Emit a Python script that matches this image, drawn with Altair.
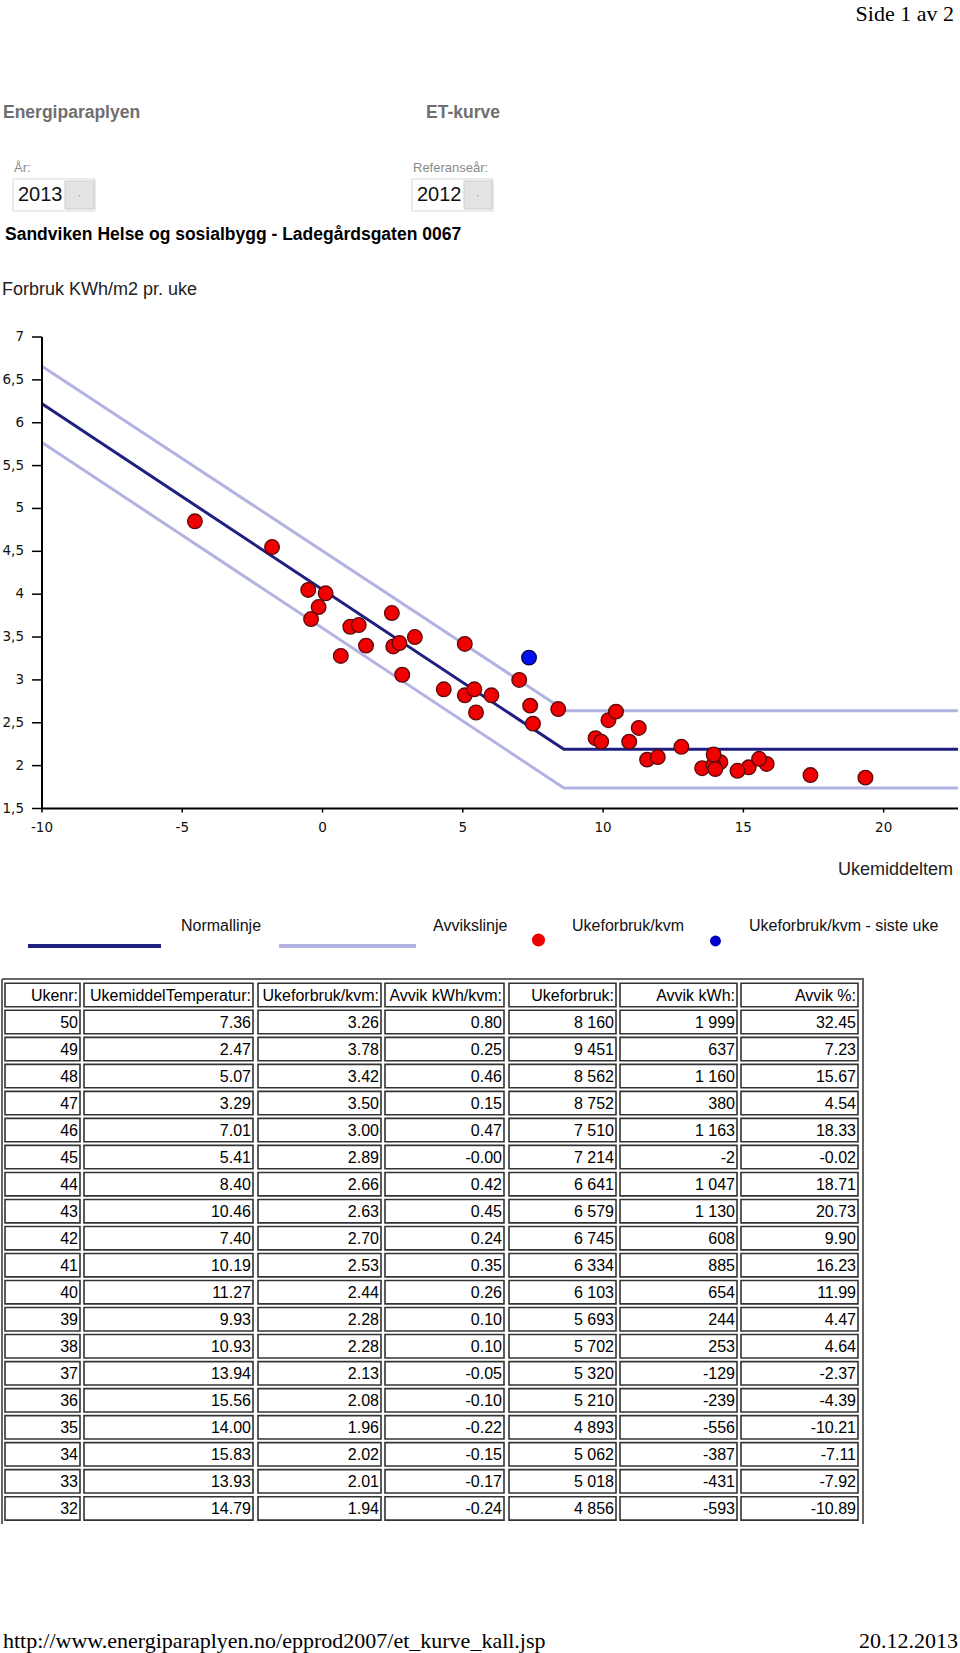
import altair as alt
import pandas as pd

W, H = 960, 1653

# ---------------- data ----------------
weeks = [50, 49, 48, 47, 46, 45, 44, 43, 42, 41, 40, 39, 38, 37, 36, 35, 34, 33, 32]
week_temp = [7.36, 2.47, 5.07, 3.29, 7.01, 5.41, 8.40, 10.46, 7.40, 10.19, 11.27, 9.93,
             10.93, 13.94, 15.56, 14.00, 15.83, 13.93, 14.79]
week_use_kvm = [3.26, 3.78, 3.42, 3.50, 3.00, 2.89, 2.66, 2.63, 2.70, 2.53, 2.44, 2.28,
                2.28, 2.13, 2.08, 1.96, 2.02, 2.01, 1.94]
week_dev_kvm = [0.80, 0.25, 0.46, 0.15, 0.47, -0.00, 0.42, 0.45, 0.24, 0.35, 0.26, 0.10,
                0.10, -0.05, -0.10, -0.22, -0.15, -0.17, -0.24]
week_use_kwh = [8160, 9451, 8562, 8752, 7510, 7214, 6641, 6579, 6745, 6334, 6103, 5693,
                5702, 5320, 5210, 4893, 5062, 5018, 4856]
week_dev_kwh = [1999, 637, 1160, 380, 1163, -2, 1047, 1130, 608, 885, 654, 244,
                253, -129, -239, -556, -387, -431, -593]
week_dev_pct = [32.45, 7.23, 15.67, 4.54, 18.33, -0.02, 18.71, 20.73, 9.90, 16.23, 11.99,
                4.47, 4.64, -2.37, -4.39, -10.21, -7.11, -7.92, -10.89]

# earlier weeks of the year, only shown as points in the chart
earlier_temp = [-4.55, -1.80, -0.51, 0.11, -0.14, -0.41, 0.99, 1.29, 1.55, 2.52, 2.74, 0.65,
                2.84, 4.32, 5.07, 6.02, 5.47, 7.50, 9.73, 12.79, 11.57, 11.95, 13.53, 14.18,
                15.19, 17.39, 19.35]
earlier_use = [4.85, 4.55, 4.05, 4.01, 3.85, 3.71, 3.62, 3.64, 3.40, 3.39, 3.43, 3.28,
               3.06, 2.89, 2.82, 2.82, 2.62, 2.49, 2.32, 2.22, 2.07, 2.10, 1.97, 2.04,
               1.98, 1.89, 1.86]

# ET-curve lines
normal_t = [-10, 8.6, 22.65]
normal_v = [6.22, 2.19, 2.19]
upper_t = [-10, 8.65, 22.65]
upper_v = [6.66, 2.64, 2.64]
lower_t = [-10, 8.6, 22.65]
lower_v = [5.77, 1.74, 1.74]

x_ticks = [-10, -5, 0, 5, 10, 15, 20]
x_tick_labels = ["-10", "-5", "0", "5", "10", "15", "20"]
y_ticks = [1.5, 2, 2.5, 3, 3.5, 4, 4.5, 5, 5.5, 6, 6.5, 7]
y_tick_labels = ["1,5", "2", "2,5", "3", "3,5", "4", "4,5", "5", "5,5", "6", "6,5", "7"]
x_min, x_max = -10, 22.65
y_min, y_max = 1.5, 7

headers = ["Ukenr:", "UkemiddelTemperatur:", "Ukeforbruk/kvm:", "Avvik kWh/kvm:",
           "Ukeforbruk:", "Avvik kWh:", "Avvik %:"]

# ---------------- layout / style ----------------
NAVY = "#1f1f80"
LAV = "#b3b3e3"
FONT = "Liberation Sans"

X_SCALE = alt.Scale(domain=[x_min, x_max], range=[42, 958], nice=False, zero=False)
Y_SCALE = alt.Scale(domain=[y_min, y_max], range=[808.5, 337], nice=False, zero=False)
PX = alt.Scale(domain=[0, W], range=[0, W], nice=False, zero=False)
PY = alt.Scale(domain=[0, H], range=[0, H], nice=False, zero=False)

COL_EDGES = [(5, 80), (84, 253), (258, 381), (385, 504), (509, 616), (620, 737), (741, 858)]
ROW_TOP0 = 983.3
ROW_PITCH = 27.02
ROW_H = 23.4

one = pd.DataFrame({"a": [0]})


def label(text, x, y, size, color="#000", font=FONT, weight="normal", align="left"):
    return alt.Chart(pd.DataFrame({"t": [text]})).mark_text(
        align=align, baseline="middle", font=font, fontSize=size,
        fontWeight=weight, color=color
    ).encode(x=alt.value(x), y=alt.value(y), text="t:N")


def box(x0, y0, x1, y1, fill, stroke, sw=1.0):
    return alt.Chart(one).mark_rect(fill=fill, stroke=stroke, strokeWidth=sw).encode(
        x=alt.value(x0), x2=alt.value(x1), y=alt.value(y0), y2=alt.value(y1))


def hline(x0, x1, y, color, width):
    return alt.Chart(one).mark_rule(color=color, strokeWidth=width).encode(
        x=alt.value(x0), x2=alt.value(x1), y=alt.value(y))


def vline(x, y0, y1, color, width):
    return alt.Chart(one).mark_rule(color=color, strokeWidth=width).encode(
        x=alt.value(x), y=alt.value(y0), y2=alt.value(y1))


layers = []

# ---------------- page header ----------------
layers += [
    label("Side 1 av 2", 954, 14, 22, "#000", "Liberation Serif", align="right"),
    label("Energiparaplyen", 3, 113, 17.5, "#6f6f6f", weight="bold"),
    label("ET-kurve", 426, 113, 17.5, "#6f6f6f", weight="bold"),
    label("År:", 14, 168, 13, "#8a8a8a"),
    label("Referanseår:", 413, 168, 13, "#8a8a8a"),
    box(13, 179, 95, 211, "#ffffff", "#d8d8d8"),
    box(65, 181, 94, 209, "#e4e4e4", "#cccccc"),
    label("2013", 18, 195, 20, "#111"),
    label("·", 79.5, 195, 12, "#999", align="center"),
    box(412, 179, 493, 211, "#ffffff", "#d8d8d8"),
    box(464, 181, 492, 209, "#e4e4e4", "#cccccc"),
    label("2012", 417, 195, 20, "#111"),
    label("·", 478, 195, 12, "#999", align="center"),
    label("Sandviken Helse og sosialbygg - Ladegårdsgaten 0067", 5, 235, 17.5, "#000", weight="bold"),
    label("Forbruk KWh/m2 pr. uke", 2, 290, 18, "#222"),
    label("Ukemiddeltem", 838, 870, 18, "#222"),
]

# ---------------- chart ----------------
XQ = lambda f: alt.X(f, type="quantitative", scale=X_SCALE, axis=None)
YQ = lambda f: alt.Y(f, type="quantitative", scale=Y_SCALE, axis=None)

lines_df = pd.concat([
    pd.DataFrame({"t": upper_t, "v": upper_v, "line": "upper", "o": range(3)}),
    pd.DataFrame({"t": lower_t, "v": lower_v, "line": "lower", "o": range(3)}),
])
normal_df = pd.DataFrame({"t": normal_t, "v": normal_v, "o": range(3)})

pts_df = pd.DataFrame({
    "t": earlier_temp + week_temp[::-1][:-1],
    "v": earlier_use + week_use_kvm[::-1][:-1],
})
last_df = pd.DataFrame({"t": week_temp[:1], "v": week_use_kvm[:1]})

xt_df = pd.DataFrame({"t": x_ticks, "lab": x_tick_labels, "v": y_min})
yt_df = pd.DataFrame({"v": y_ticks, "lab": y_tick_labels, "t": x_min})
xdom_df = pd.DataFrame({"t": [x_min], "t2": [x_max], "v": [y_min]})
ydom_df = pd.DataFrame({"t": [x_min], "v": [y_min], "v2": [y_max]})

x_domain = alt.Chart(xdom_df).mark_rule(color="#000", strokeWidth=2).encode(
    x=XQ("t"), x2="t2:Q", y=YQ("v"))
y_domain = alt.Chart(ydom_df).mark_rule(color="#000", strokeWidth=2).encode(
    x=XQ("t"), y=YQ("v"), y2="v2:Q")
x_tick_marks = alt.Chart(xt_df).mark_rule(color="#000", strokeWidth=1.5).encode(
    x=XQ("t"), y=alt.value(808.5), y2=alt.value(812.5))
x_tick_text = alt.Chart(xt_df).mark_text(font="DejaVu Sans", fontSize=13.5, color="#111",
                                         baseline="middle", align="center").encode(
    x=XQ("t"), y=alt.value(828), text="lab:N")
y_tick_marks = alt.Chart(yt_df).mark_rule(color="#000", strokeWidth=1.5).encode(
    x=alt.value(32), x2=alt.value(42), y=YQ("v"))
y_tick_text = alt.Chart(yt_df).mark_text(font="DejaVu Sans", fontSize=13.5, color="#111",
                                         baseline="middle", align="right").encode(
    x=alt.value(24), y=YQ("v"), text="lab:N")

avvik = alt.Chart(lines_df).mark_line(color=LAV, strokeWidth=3).encode(
    x=XQ("t"), y=YQ("v"), detail="line:N", order="o:Q")
normal = alt.Chart(normal_df).mark_line(color=NAVY, strokeWidth=3).encode(
    x=XQ("t"), y=YQ("v"), order="o:Q")
red = alt.Chart(pts_df).mark_circle(size=215, fill="#f00000", stroke="#5a0808",
                                    strokeWidth=1.3, opacity=1).encode(x=XQ("t"), y=YQ("v"))
blue = alt.Chart(last_df).mark_circle(size=215, fill="#0010ee", stroke="#06065a",
                                      strokeWidth=1.3, opacity=1).encode(x=XQ("t"), y=YQ("v"))
plot = alt.layer(avvik, normal, x_domain, y_domain, x_tick_marks, x_tick_text,
                 y_tick_marks, y_tick_text, red, blue)
layers.append(plot)

# ---------------- legend ----------------
layers += [
    hline(28, 161, 946, NAVY, 4),
    hline(279, 416, 946, LAV, 4),
    label("Normallinje", 181, 926, 16, "#111"),
    label("Avvikslinje", 433, 926, 16, "#111"),
    label("Ukeforbruk/kvm", 572, 926, 16, "#111"),
    label("Ukeforbruk/kvm - siste uke", 749, 926, 16, "#111"),
    alt.Chart(one).mark_circle(size=170, color="#ee0000", opacity=1).encode(
        x=alt.value(538.5), y=alt.value(940)),
    alt.Chart(one).mark_circle(size=120, color="#0000cc", opacity=1).encode(
        x=alt.value(715.5), y=alt.value(941)),
]

# ---------------- table ----------------
def fmt_int(v):
    return f"{v:,}".replace(",", " ")


rows = [headers]
for i in range(len(weeks)):
    rows.append([str(weeks[i]), f"{week_temp[i]:.2f}", f"{week_use_kvm[i]:.2f}",
                 f"{week_dev_kvm[i]:.2f}", fmt_int(week_use_kwh[i]),
                 fmt_int(week_dev_kwh[i]), f"{week_dev_pct[i]:.2f}"])

cells = []
for r, row in enumerate(rows):
    y0 = ROW_TOP0 + r * ROW_PITCH
    for c, txt in enumerate(row):
        x0, x1 = COL_EDGES[c]
        cells.append({"x0": x0, "x1": x1, "y0": y0, "y1": y0 + ROW_H,
                      "tx": x1 - 2, "ty": y0 + ROW_H / 2 + 0.5, "txt": txt})
cells_df = pd.DataFrame(cells)

layers += [
    hline(2, 864, 979, "#666", 2),
    vline(2, 979, 1524, "#666", 2),
    vline(863, 979, 1524, "#666", 2),
    alt.Chart(cells_df).mark_rect(fill="#ffffff", stroke="#333", strokeWidth=1.6).encode(
        x=alt.X("x0:Q", scale=PX, axis=None), x2="x1:Q",
        y=alt.Y("y0:Q", scale=PY, axis=None), y2="y1:Q"),
    alt.Chart(cells_df).mark_text(align="right", baseline="middle", font=FONT, fontSize=16,
                                  color="#000").encode(
        x=alt.X("tx:Q", scale=PX, axis=None),
        y=alt.Y("ty:Q", scale=PY, axis=None), text="txt:N"),
]

# ---------------- footer ----------------
layers += [
    label("http://www.energiparaplyen.no/epprod2007/et_kurve_kall.jsp", 3, 1641, 22,
          "#000", "Liberation Serif"),
    label("20.12.2013", 958, 1641, 22, "#000", "Liberation Serif", align="right"),
]

chart = alt.layer(*layers).resolve_scale(x="independent", y="independent").properties(
    width=W, height=H, padding=0, autosize=alt.AutoSizeParams(type="none"),
    background="#ffffff"
).configure_view(stroke=None)

chart.save("out.html", embed_options={"renderer": "svg", "actions": False})
